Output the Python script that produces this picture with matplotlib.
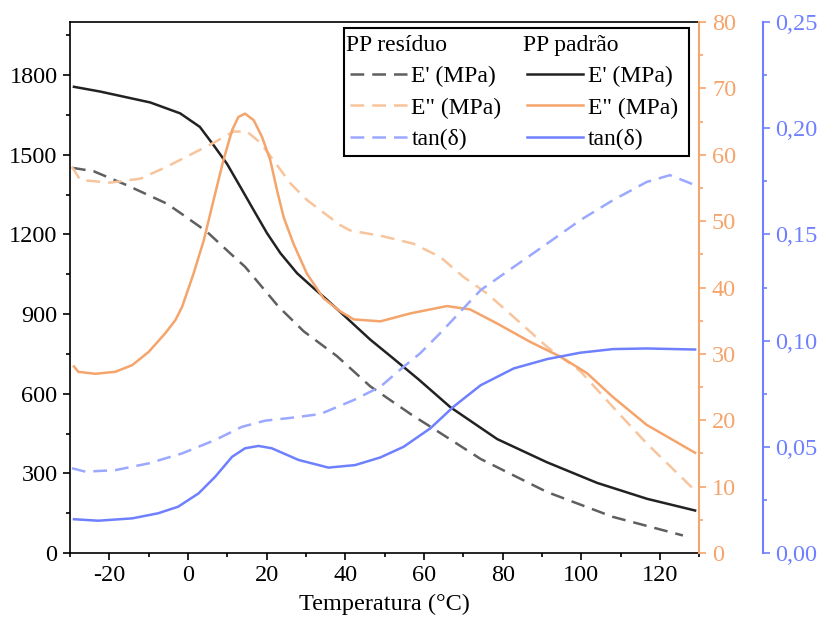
import numpy as np
import matplotlib.pyplot as plt
from matplotlib.lines import Line2D
from matplotlib.ticker import MultipleLocator, FuncFormatter

plt.rcParams['font.family'] = ['Liberation Serif', 'DejaVu Serif']
plt.rcParams['font.size'] = 17.5

# --- dados DMA ---
# PP padrão: E' (MPa)
t_e1_pad = [-29, -22.3, -9.6, -2, 3, 6.5, 9.9, 13.3, 16.7, 20.1, 23.5, 27.7, 31.9, 35.3, 40,
            46.3, 52, 58.6, 66.7, 78.6, 91.2, 104, 116.7, 128.9]
e1_pad = [1756, 1738, 1697, 1656, 1605, 1536, 1466, 1379, 1291, 1204, 1129, 1054, 998, 954, 890,
          804, 735, 654, 549, 429, 342, 264, 204, 160]

# PP resíduo: E' (MPa)
t_e1_res = [-29.5, -24, -15.5, -5.4, -1.1, 4.8, 10.7, 14.5, 17.5, 20.9, 23, 29.4, 37.9, 46.3,
            57.3, 61.6, 74.4, 91.2, 108, 125.8]
e1_res = [1451, 1438, 1385, 1316, 1272, 1210, 1129, 1078, 1025, 965, 928, 835, 741, 628,
          516, 476, 354, 230, 136, 66]

# PP padrão: E'' (MPa)
t_e2_pad = [-29, -27.9, -23.6, -18.5, -14.2, -10, -5.8, -3.2, -1.5, 1.4, 4, 6.5, 9, 11.2, 12.8,
            14.5, 16.7, 18.8, 20.9, 22.6, 24.3, 26.8, 30.2, 34.4, 38.7, 42.1, 48.9, 56.5, 65.8,
            71.7, 78.5, 87, 94.6, 101.4, 108, 116.6, 128.9]
e2_pad = [28.1, 27.3, 27.0, 27.3, 28.3, 30.3, 33.1, 35.1, 37.1, 42.1, 47.1, 53.2, 59.2, 63.7, 65.7,
          66.2, 65.2, 62.7, 59.2, 54.7, 50.6, 46.6, 42.1, 38.4, 36.4, 35.2, 34.9, 36.1, 37.2,
          36.7, 34.6, 31.8, 29.6, 27.1, 23.5, 19.3, 15.1]

# PP resíduo: E'' (MPa)
t_e2_res = [-29.5, -27.4, -19.8, -12.1, -5.4, -1.1, 6.5, 11.6, 15, 18.4, 21.7, 26, 30.2, 35.3,
            38.7, 41.2, 49.7, 57.3, 64.1, 70, 76, 82.7, 91.2, 99.7, 108, 116.6, 128.4]
e2_res = [58.2, 56.2, 55.8, 56.4, 58.2, 59.5, 61.8, 63.5, 63.5, 61.8, 59.2, 55.7, 53.2, 50.9,
          49.4, 48.6, 47.7, 46.6, 44.6, 41.6, 39.1, 35.6, 31.1, 27.4, 22.0, 16.5, 9.7]

# PP padrão: tan(delta)
t_tan_pad = [-29, -22.8, -14.2, -7.6, -2.5, 2.7, 6.9, 11.2, 14.5, 17.9, 21.3, 28.1, 35.7, 42.5,
             48.9, 54.8, 61.6, 67.5, 74.4, 82.8, 91.3, 99.7, 108, 116.6, 128.9]
tan_pad = [0.0159, 0.0152, 0.0163, 0.0187, 0.0218, 0.0281, 0.0359, 0.0453, 0.0493, 0.0504, 0.0493,
           0.0438, 0.0402, 0.0414, 0.0450, 0.0500, 0.0587, 0.0689, 0.0790, 0.0869, 0.0913, 0.0943,
           0.0960, 0.0963, 0.0958]

# PP resíduo: tan(delta)
t_tan_res = [-29.5, -26.1, -18.5, -10, -1.5, 6.9, 13.7, 19.6, 26, 33.6, 42.1, 48.9, 54.8, 59,
             64.1, 74.4, 82.8, 91.3, 99.7, 108, 116.6, 122.5, 128.9]
tan_res = [0.0399, 0.0383, 0.0390, 0.0422, 0.0469, 0.0532, 0.0594, 0.0623, 0.0636, 0.0654, 0.0720,
           0.0783, 0.0877, 0.0940, 0.1035, 0.1238, 0.1347, 0.1457, 0.1567, 0.1661, 0.1747, 0.1779,
           0.1732]

c_preto = '#222222'
c_cinza = '#5f5f5f'
c_laranja = '#F5A46C'
c_laranja_cl = '#F8C49C'
c_azul = '#6F80FF'
c_azul_cl = '#9AA8FF'
tracejado = (5.5, 3.2)
lw = 1.8

fig = plt.figure(figsize=(8.19, 6.24), dpi=100)
ax = fig.add_axes([0.0855, 0.1138, 0.7685, 0.8509])
ax2 = ax.twinx()
ax3 = ax.twinx()
ax3.spines['right'].set_position(('outward', 45.5))

# curvas
l1, = ax.plot(t_e1_res, e1_res, color=c_cinza, lw=lw, dashes=tracejado)
l4, = ax.plot(t_e1_pad, e1_pad, color=c_preto, lw=lw)
l2, = ax2.plot(t_e2_res, e2_res, color=c_laranja_cl, lw=lw, dashes=tracejado)
l5, = ax2.plot(t_e2_pad, e2_pad, color=c_laranja, lw=lw)
l3, = ax3.plot(t_tan_res, tan_res, color=c_azul_cl, lw=lw, dashes=tracejado)
l6, = ax3.plot(t_tan_pad, tan_pad, color=c_azul, lw=lw)

# eixos
ax.set_xlim(-30, 130)
ax.set_ylim(0, 2000)
ax2.set_ylim(0, 80)
ax3.set_ylim(0, 0.25)

ax.xaxis.set_major_locator(MultipleLocator(20))
ax.xaxis.set_minor_locator(MultipleLocator(10))
ax.yaxis.set_major_locator(MultipleLocator(300))
ax.yaxis.set_minor_locator(MultipleLocator(150))
ax2.yaxis.set_major_locator(MultipleLocator(10))
ax2.yaxis.set_minor_locator(MultipleLocator(5))
ax3.yaxis.set_major_locator(MultipleLocator(0.05))
ax3.yaxis.set_minor_locator(MultipleLocator(0.025))
ax3.yaxis.set_major_formatter(FuncFormatter(lambda v, p: f'{v:.2f}'.replace('.', ',')))

ax.set_xticks([-20, 0, 20, 40, 60, 80, 100, 120])
ax.set_xticklabels(['-20', '0', '20', '40', '60', '80', '100', '120'])
ax.set_xlabel('Temperatura (°C)', labelpad=5)

for a in (ax, ax2, ax3):
    a.tick_params(which='major', direction='out', length=5, width=1.2, pad=4)
    a.tick_params(which='minor', direction='out', length=3, width=1.2)

ax.spines['left'].set_linewidth(1.2)
ax.spines['bottom'].set_linewidth(1.2)
ax.spines['top'].set_linewidth(1.2)
ax.spines['right'].set_visible(False)
ax2.spines['left'].set_visible(False)
ax3.spines['left'].set_visible(False)
ax3.spines['top'].set_visible(False)
ax3.spines['bottom'].set_visible(False)
ax2.spines['top'].set_visible(False)
ax2.spines['bottom'].set_visible(False)

ax2.spines['right'].set_color(c_laranja)
ax2.spines['right'].set_linewidth(1.5)
ax2.tick_params(axis='y', which='both', colors=c_laranja)
ax3.spines['right'].set_color(c_azul)
ax3.spines['right'].set_linewidth(1.5)
ax3.tick_params(axis='y', which='both', colors=c_azul)

# legenda em duas colunas, com cabeçalho em cada coluna
vazio = Line2D([], [], linestyle='none')
handles = [vazio, l1, l2, l3, vazio, l4, l5, l6]
labels = ['PP resíduo', "E' (MPa)", 'E" (MPa)', 'tan(δ)',
          'PP padrão', "E' (MPa)", 'E" (MPa)', 'tan(δ)']
fs_leg = 17
hl, hp = 2.4, 0.2
leg = ax3.legend(handles, labels, ncol=2, loc='upper right', bbox_to_anchor=(0.984, 0.988),
                 borderaxespad=0, frameon=True, fancybox=False, framealpha=1,
                 edgecolor='black', handlelength=hl, handletextpad=hp,
                 columnspacing=0.6, labelspacing=0.42, borderpad=0.25, fontsize=fs_leg)
leg.get_frame().set_linewidth(1.5)
desloc = (hl + hp) * fs_leg * fig.dpi / 72 + 4
for i in (0, 4):
    leg.get_texts()[i].set_x(-desloc)

fig.savefig('out.png', dpi=100)
